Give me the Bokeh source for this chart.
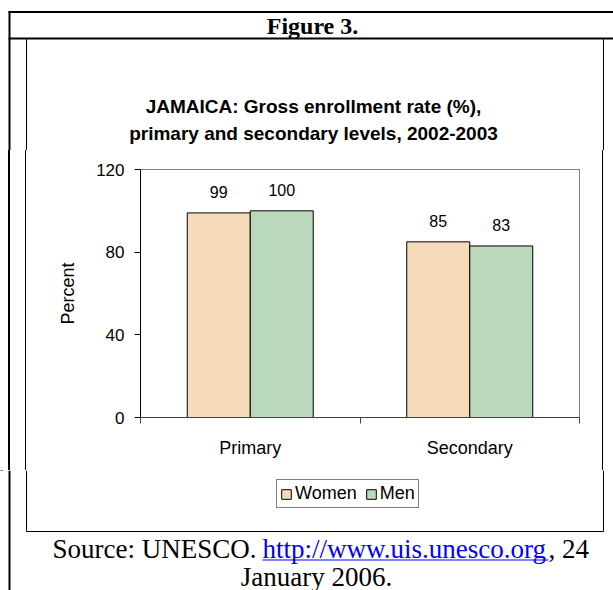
from bokeh.plotting import figure
from bokeh.layouts import column
from bokeh.models import (ColumnDataSource, Range1d, FixedTicker, LinearAxis, LabelSet)
from bokeh.core.properties import value
from bokeh.transform import dodge
from bokeh.embed import file_html
from bokeh.resources import INLINE

# ---- data ----
levels = ["Primary", "Secondary"]
women = [99, 85]
men = [100, 83]
y_ticks = [0, 40, 80, 120]
series = ["Women", "Men"]
colors = ["#F6DBBA", "#BAD9BA"]
title_lines = ["JAMAICA: Gross enrollment rate (%),",
               "primary and secondary levels, 2002-2003"]

SANS = "Liberation Sans"
SERIF = "Liberation Serif"

TW, TH = 613, 590
HEAD_B = 150      # bottom of header strip
CH_B = 470        # bottom of chart strip
FL, FR, FT, FB = 140, 579, 169, 417   # plot area (page pixels)
OUT_X, IN_L, IN_R, IN_B = 9, 26, 603, 531


def deco(x0, x1, y0, y1):
    f = figure(width=x1 - x0, height=y1 - y0, x_range=Range1d(x0, x1),
               y_range=Range1d(y1, y0), min_border=0, x_axis_location=None,
               y_axis_location=None, toolbar_location=None, output_backend="svg",
               background_fill_color="white", border_fill_color="white",
               frame_align=False)
    f.outline_line_color = None
    f.grid.visible = False
    return f


def seg(f, x0, y0, x1, y1, w=1, c="black"):
    f.segment(x0=[x0], y0=[y0], x1=[x1], y1=[y1], line_color=c, line_width=w)


def txt(f, x, y, s, font, size, style="normal", align="center", color="black"):
    f.text(x=[x], y=[y], text=[s], text_font=value(font), text_font_size=size,
           text_font_style=style, text_align=align, text_baseline="middle",
           text_color=color)


# ---- header strip ----
head = deco(0, TW, 0, HEAD_B)
seg(head, 8, 11.5, TW, 11.5, 2)
seg(head, 8, 38, TW, 38, 2)
seg(head, OUT_X, 10.5, OUT_X, HEAD_B, 2)
seg(head, IN_L, 38, IN_L, HEAD_B, 1)
seg(head, IN_R, 38, IN_R, HEAD_B, 1)
txt(head, 312, 25, "Figure 3.", SERIF, "24px", "bold")
txt(head, 313, 106, title_lines[0], SANS, "19px", "bold")
txt(head, 313, 133, title_lines[1], SANS, "19px", "bold")

# ---- chart ----
pos = [i + 0.5 for i in range(len(levels))]
p = figure(width=TW, height=CH_B - HEAD_B, x_range=Range1d(0, len(levels)),
           y_range=Range1d(0, 120), x_axis_location=None, output_backend="svg",
           toolbar_location=None, min_border_left=FL, min_border_right=TW - FR,
           min_border_top=FT - HEAD_B, min_border_bottom=CH_B - FB,
           background_fill_color="white", frame_align=False)
p.border_fill_alpha = 0
p.styles = {"background-image": (
    "linear-gradient(to right, transparent 8px, black 8px, black 10px, "
    "transparent 10px, transparent 25.5px, black 25.5px, black 26.5px, "
    "transparent 26.5px, transparent 602.5px, black 602.5px, black 603.5px, "
    "transparent 603.5px)")}
p.outline_line_color = "#808080"
p.xgrid.visible = False
p.ygrid.visible = False

ya = p.yaxis[0]
ya.ticker = FixedTicker(ticks=y_ticks)
ya.axis_line_color = "black"
ya.major_tick_line_color = "black"
ya.major_tick_out = 6
ya.major_tick_in = 0
ya.minor_tick_line_color = None
ya.major_label_text_font = SANS
ya.major_label_text_font_size = "17px"
ya.major_label_text_color = "black"
ya.major_label_standoff = 10
ya.axis_label = "Percent"
ya.axis_label_text_font = SANS
ya.axis_label_text_font_size = "18px"
ya.axis_label_text_font_style = "normal"
ya.axis_label_text_color = "black"
ya.axis_label_standoff = 15

bx = LinearAxis(ticker=FixedTicker(ticks=list(range(len(levels) + 1))),
                major_label_text_font_size="0px", major_label_standoff=0,
                major_tick_out=6, major_tick_in=0, minor_tick_line_color=None,
                axis_line_color="#404040", major_tick_line_color="#404040")
p.add_layout(bx, "below")
cx = LinearAxis(ticker=FixedTicker(ticks=pos),
                major_label_overrides={v: s for v, s in zip(pos, levels)},
                axis_line_color=None, major_tick_line_color=None,
                minor_tick_line_color=None, major_label_text_font=SANS,
                major_label_text_color="black",
                major_label_text_font_size="18px", major_label_standoff=8)
p.add_layout(cx, "below")

src = ColumnDataSource(dict(pos=pos, women=women, men=men,
                            wl=[str(v) for v in women], ml=[str(v) for v in men]))
off = 0.1435
bw = 0.287
p.vbar(x=dodge("pos", -off), top="women", width=bw, source=src,
       fill_color=colors[0], line_color="black", line_width=1)
p.vbar(x=dodge("pos", off), top="men", width=bw, source=src,
       fill_color=colors[1], line_color="black", line_width=1)

for col, lab, d in [("women", "wl", -off), ("men", "ml", off)]:
    p.add_layout(LabelSet(x=dodge("pos", d), y=col, text=lab, source=src,
                          text_align="center", text_baseline="alphabetic", y_offset=15,
                          text_font=value(SANS), text_font_size="16px", text_color="black"))

# ---- footer (legend + source) ----
foot = deco(0, TW, CH_B, TH)
seg(foot, OUT_X, CH_B, OUT_X, TH, 2)
seg(foot, IN_L, CH_B, IN_L, IN_B, 1)
seg(foot, IN_R, CH_B, IN_R, IN_B, 1)
seg(foot, IN_L, IN_B, IN_R, IN_B, 1)

# legend swatches come from the same data source (the bars themselves fall outside this strip)
for name, c, col in zip(series, colors, ["women", "men"]):
    foot.vbar(x="pos", top=col, bottom=0, width=0.1, source=src, fill_color=c,
              line_color="black", line_width=1, legend_label=name)
lg = foot.legend[0]
lg.location = (276, TH - 508)
lg.orientation = "horizontal"
lg.border_line_color = "black"
lg.border_line_width = 1
lg.background_fill_color = "white"
lg.label_text_font = SANS
lg.label_text_font_size = "18px"
lg.label_text_color = "black"
lg.glyph_width = 12
lg.glyph_height = 12
lg.padding = 3
lg.spacing = 8
lg.margin = 0
lg.label_standoff = 3
lg.label_height = 18

txt(foot, 52, 548, "Source: UNESCO.", SERIF, "27px", align="left")
txt(foot, 262, 548, "http://www.uis.unesco.org", SERIF, "27px", align="left", color="#0000FF")
txt(foot, 548, 548, ", 24", SERIF, "27px", align="left")
seg(foot, 262, 559.5, 548, 559.5, 1, "#0000FF")
txt(foot, 316, 576, "January 2006.", SERIF, "27px")

layout = column(head, p, foot, spacing=0)
open("out.html", "w").write(file_html(layout, INLINE))
